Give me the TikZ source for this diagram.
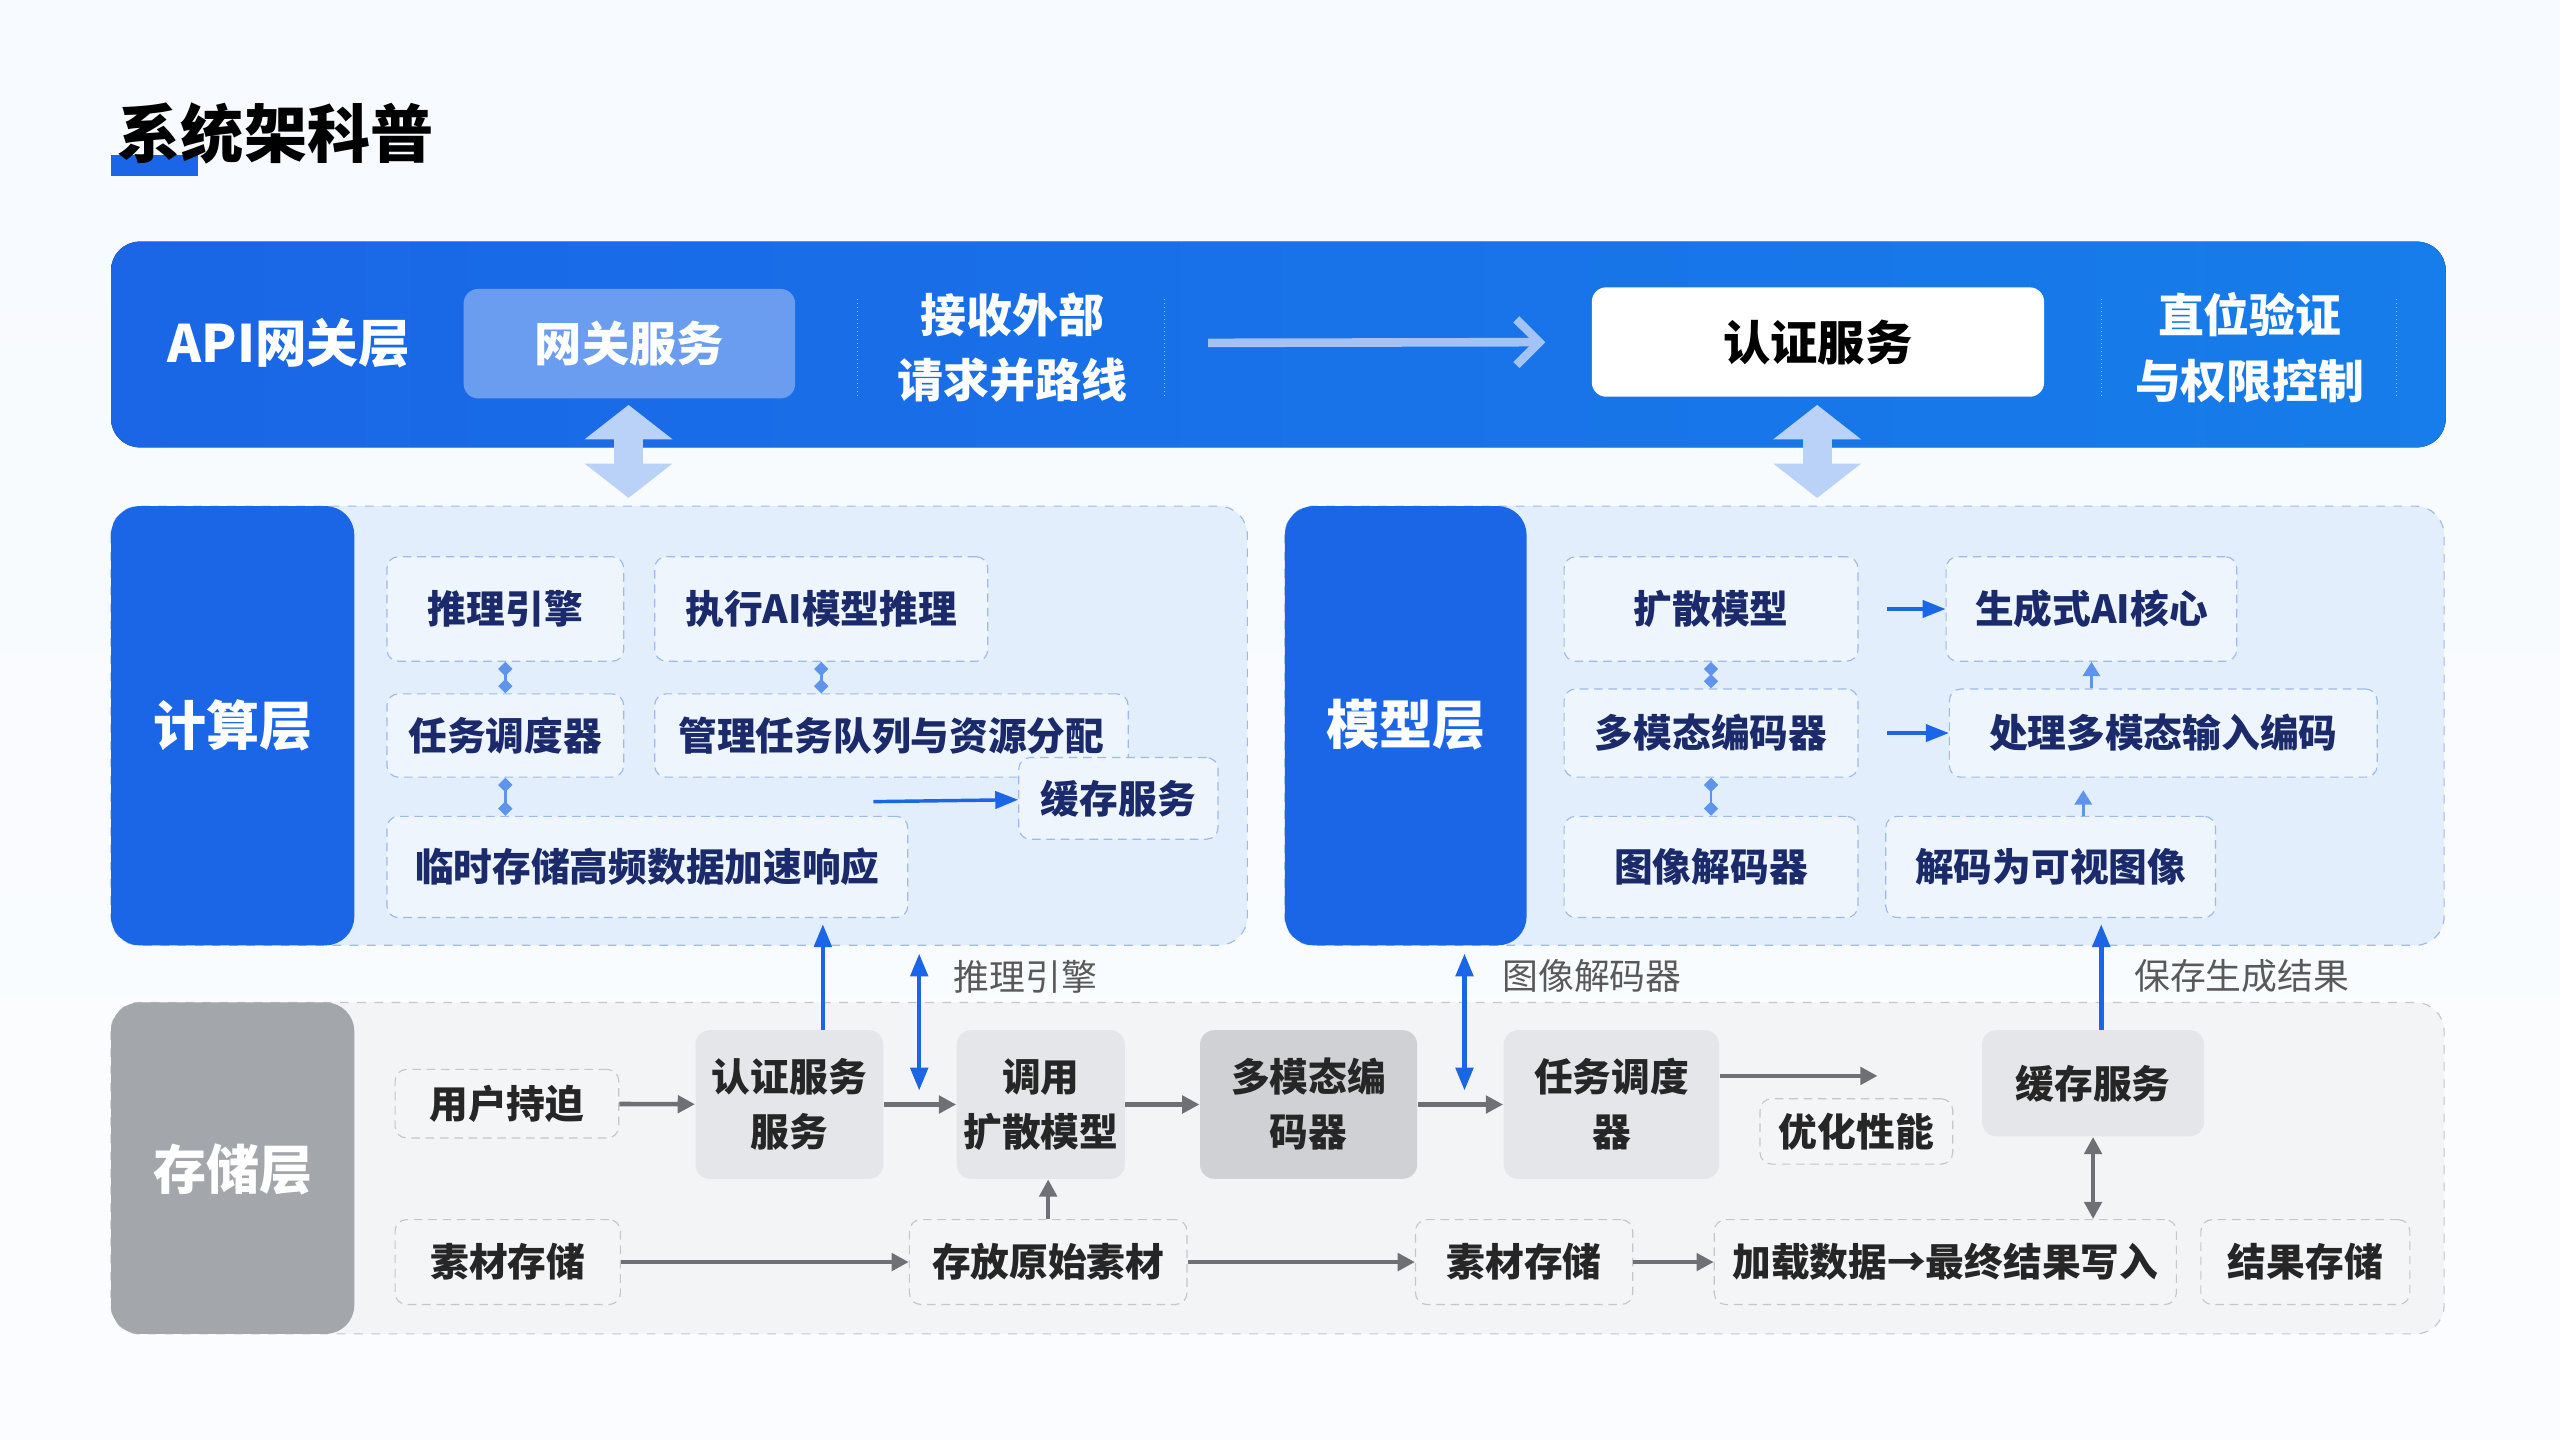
\documentclass[tikz,border=0pt]{standalone}
\usepackage{fontspec}
\setmainfont{Noto Sans CJK SC}
\usetikzlibrary{arrows.meta, positioning}
\definecolor{LayerBlue}{HTML}{1A66E6}
\definecolor{PanelBlue}{HTML}{E3EEFC}
\definecolor{EdgeBlue}{HTML}{9DBBE8}
\definecolor{InkBlue}{HTML}{1B2A6B}
\definecolor{LayerGrey}{HTML}{A3A6AB}
\definecolor{BoxGrey}{HTML}{E4E6EA}
\definecolor{ArrowGrey}{HTML}{6E7075}
\tikzset{
  px/.style={x=0.02cm, y=-0.02cm},
  fs/.style={font=\fontsize{#1}{\the\dimexpr#1pt*142/100\relax}\selectfont\bfseries},
  cbox/.style={draw=EdgeBlue, densely dashed, rounded corners=4pt, fill=PanelBlue!60!white, fs=13.5, text=InkBlue, align=center, inner sep=0pt},
  sbox/.style={draw=gray!45, densely dashed, rounded corners=4pt, fill=white!60!BoxGrey, fs=13.5, text=black!85, align=center, inner sep=0pt},
  gbox/.style={rounded corners=5pt, fill=BoxGrey, fs=13.5, text=black!85, align=center, inner sep=0pt},
  ga/.style={-{Triangle[length=6pt,width=6pt]}, ArrowGrey, line width=1.6pt},
  ba/.style={-{Triangle[length=8pt,width=6pt]}, LayerBlue, line width=1.6pt},
  sa/.style={{Diamond[length=5pt,width=5pt]}-{Diamond[length=5pt,width=5pt]}, LayerBlue!70, line width=1pt},
}
\newcommand{\bx}[6]{\node[#1, minimum width=#4*0.02cm, minimum height=#5*0.02cm] (#2) at (#3) {#6};}
\begin{document}
\begin{tikzpicture}[px]
\useasboundingbox (0,0) rectangle (1568,882);
\shade[top color=white!70!PanelBlue, bottom color=white!85!PanelBlue] (0,0) rectangle (1568,882);
% title
\fill[LayerBlue] (68,95) rectangle (121,108);
\node[fs=22, anchor=west] (title) at (66,82) {系统架科普};
% API gateway layer
\fill[left color=LayerBlue, right color=LayerBlue!85!cyan, rounded corners=10pt] (68,148) rectangle (1498,274);
\node[fs=18, text=white] (api) at (177,210) {API网关层};
\bx{rounded corners=5pt, fill=white!35!LayerBlue, text=white, fs=16.5}{gw}{385.5,210.5}{203}{67}{网关服务}
\draw[white!60!LayerBlue, densely dotted] (525,183) -- (525,243) (713,183) -- (713,243) (1287,183) -- (1287,243) (1468,183) -- (1468,243);
\node[fs=16, text=white, align=center] (recv) at (620,213) {接收外部\\请求并路线};
\bx{rounded corners=5pt, fill=white, text=black, fs=16.5}{auth}{1113.5,209.5}{277}{67}{认证服务}
\node[fs=16, text=white, align=center] (verify) at (1378,213) {直位验证\\与权限控制};
\coordinate (fl) at (740,210);
\draw[-{Straight Barb[length=8pt]}, white!60!LayerBlue, line width=3pt, shorten >=16pt] (fl) -- (auth.west);
\draw[{Triangle[length=12pt,width=30pt]}-{Triangle[length=12pt,width=30pt]}, line width=10pt, white!70!LayerBlue] (385,248) -- (385,305);
\draw[{Triangle[length=12pt,width=30pt]}-{Triangle[length=12pt,width=30pt]}, line width=10pt, white!70!LayerBlue] (1113,248) -- (1113,305);
% compute layer
\draw[EdgeBlue, dashed, fill=PanelBlue, rounded corners=10pt] (68,310) rectangle (764,579);
\fill[LayerBlue, rounded corners=10pt] (68,310) rectangle (217,579);
\node[fs=18.5, text=white] (comp) at (142.5,444) {计算层};
\bx{cbox}{infer}{309.5,373}{145}{64}{推理引擎}
\bx{cbox}{exec}{503,373}{204}{64}{执行AI模型推理}
\bx{cbox}{sched}{309.5,450.5}{145}{51}{任务调度器}
\bx{cbox}{queue}{546,450.5}{290}{51}{管理任务队列与资源分配}
\bx{cbox}{cache}{685,489}{122}{50}{缓存服务}
\bx{cbox}{temp}{396.5,531}{319}{62}{临时存储高频数据加速响应}
\draw[sa] (infer) -- (sched);
\draw[sa] (exec) -- (exec|-queue.north);
\draw[sa] (sched) -- (sched|-temp.north);
\coordinate (cf) at (535,491);
\draw[ba, line width=1.2pt] (cf) -- (cache);
% model layer
\draw[EdgeBlue, dashed, fill=PanelBlue, rounded corners=10pt] (787,310) rectangle (1497,579);
\fill[LayerBlue, rounded corners=10pt] (787,310) rectangle (935,579);
\node[fs=18.5, text=white] (model) at (861,444) {模型层};
\bx{cbox}{diff}{1048,373}{180}{64}{扩散模型}
\bx{cbox}{gen}{1281,373}{178}{64}{生成式AI核心}
\bx{cbox}{enc}{1048,449}{180}{54}{多模态编码器}
\bx{cbox}{proc}{1325,449}{262}{54}{处理多模态输入编码}
\bx{cbox}{dec}{1048,531}{180}{62}{图像解码器}
\bx{cbox}{vis}{1256,531}{202}{62}{解码为可视图像}
\draw[ba, line width=1.2pt, shorten <=10pt] (diff) -- (gen);
\draw[ba, line width=1.2pt, shorten <=10pt] (enc) -- (proc);
\draw[sa] (diff) -- (enc);
\draw[sa] (enc) -- (dec);
\draw[-{Triangle[length=5pt,width=6pt]}, LayerBlue!70, line width=1pt] (gen.south|-proc.north) -- (gen.south);
\draw[-{Triangle[length=5pt,width=6pt]}, LayerBlue!70, line width=1pt] (1276,0|-vis.north) -- (1276,484);
% storage layer
\draw[gray!45, dashed, fill=white!55!BoxGrey, rounded corners=10pt] (68,614) rectangle (1497,817);
\fill[LayerGrey, rounded corners=10pt] (68,614) rectangle (217,817);
\node[fs=18.5, text=white] (store) at (142.5,716) {存储层};
\bx{sbox}{user}{310.5,676}{137}{42}{用户持迫}
\bx{gbox}{sauth}{483.5,676.5}{115}{91}{认证服务\\服务}
\bx{gbox}{call}{637.5,676.5}{103}{91}{调用\\扩散模型}
\bx{gbox, fill=BoxGrey!80!gray}{menc}{801.5,676.5}{133}{91}{多模态编\\码器}
\bx{gbox}{tsch}{987,676.5}{132}{91}{任务调度\\器}
\bx{sbox}{perf}{1137,693}{118}{40}{优化性能}
\bx{gbox}{scache}{1282,663.5}{136}{65}{缓存服务}
\bx{sbox}{mat}{311,773}{138}{52}{素材存储}
\bx{sbox}{raw}{642,773}{170}{52}{存放原始素材}
\bx{sbox}{mat2}{933.5,773}{133}{52}{素材存储}
\bx{sbox}{load}{1191.5,773}{283}{52}{加载数据→最终结果写入}
\bx{sbox}{res}{1412,773}{128}{52}{结果存储}
\draw[ga] (user) -- (sauth);
\draw[ga] (sauth) -- (call);
\draw[ga] (call) -- (menc);
\draw[ga] (menc) -- (tsch);
\coordinate (pt) at (1150,659);
\draw[ga] (tsch.east|-pt) -- (pt);
\draw[{Triangle[length=6pt,width=6pt]}-{Triangle[length=6pt,width=6pt]}, ArrowGrey, line width=1.6pt] (scache) -- (scache|-load.north);
\draw[ga] (mat) -- (raw);
\draw[ga] (raw) -- (mat2);
\draw[ga] (mat2) -- (load);
\draw[ga] (raw) -- (raw|-call.south);
% cross-layer links
\draw[ba] (504,0|-sauth.north) -- (504,566);
\draw[{Triangle[length=8pt,width=6pt]}-{Triangle[length=8pt,width=6pt]}, LayerBlue, line width=1.6pt] (563,584) -- (563,668);
\node[font=\fontsize{12.5}{13}\selectfont, text=black!65, anchor=west] (lb1) at (578,598) {推理引擎};
\draw[{Triangle[length=8pt,width=6pt]}-{Triangle[length=8pt,width=6pt]}, LayerBlue, line width=1.6pt] (897,584) -- (897,668);
\node[font=\fontsize{12.5}{13}\selectfont, text=black!65, anchor=west] (lb2) at (914,598) {图像解码器};
\draw[ba] (1287,0|-scache.north) -- (1287,566);
\node[font=\fontsize{12.5}{13}\selectfont, text=black!65, anchor=west] (lb3) at (1301,598) {保存生成结果};
\end{tikzpicture}
\end{document}
